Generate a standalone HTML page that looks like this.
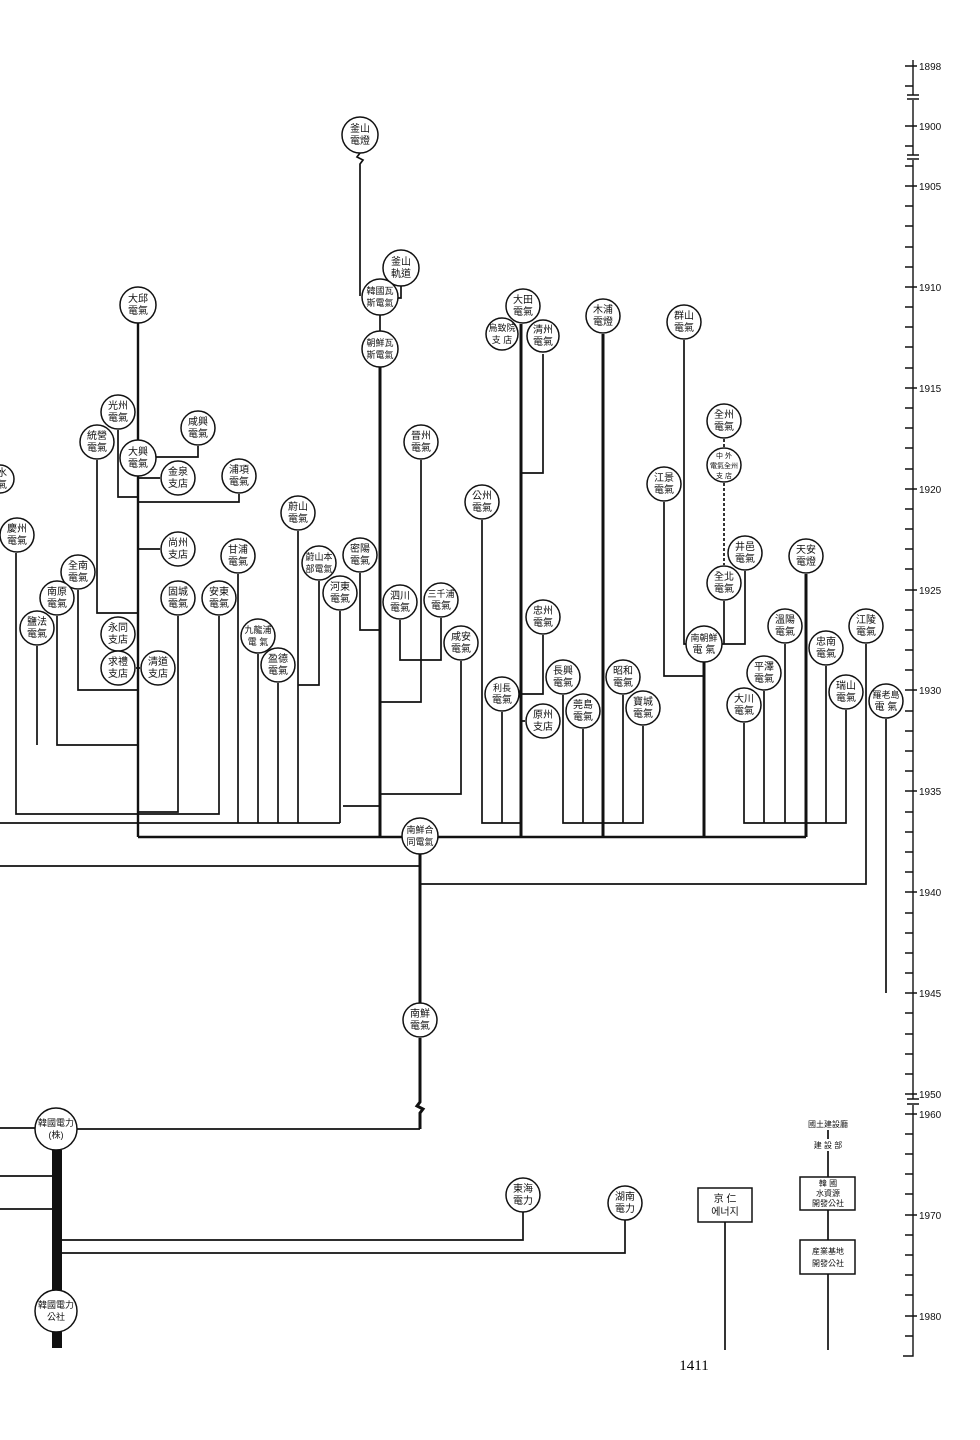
<!DOCTYPE html>
<html><head><meta charset="utf-8">
<style>
html,body{margin:0;padding:0;background:#fff;}
svg{display:block;}
.n circle,.n ellipse{fill:#fff;stroke:#111;stroke-width:1.5;}
.n text{font-family:"Liberation Sans","Noto Sans CJK TC",sans-serif;font-size:10px;text-anchor:middle;fill:#111;}
.t{fill:none;stroke:#111;stroke-width:1.7;}
.k{fill:none;stroke:#111;stroke-width:3;}
.yr{font-family:"Liberation Sans",sans-serif;font-size:10px;fill:#111;}
</style></head><body>
<svg width="980" height="1440" viewBox="0 0 980 1440" xmlns="http://www.w3.org/2000/svg">
<rect width="980" height="1440" fill="#fff"/>
<!-- thin connectors -->
<path class="t" d="M360,153 l-3,4 l6,3 l-3,4 V296 M401,286 V298 H396 M380,315 V331
M118,430 V497 H138 M198,446 V457 H156 M97,460 V613 H138 M138,478 H160 M239,494 V502 H138
M16,553 V814 H219 V616 M138,549 H160 M78,590 V690 H138 M57,616 V745 H138 M37,646 V745
M136,668 H140 M178,616 V812 H138
M0,823 H340 M238,574 V823 M258,654 V823 M278,683 V823 M298,531 V823 M340,611 V823
M319,581 V685 H298 M360,573 V630 H380 M421,460 V702 H380 M400,620 V660 H441 V618
M461,661 V794 H380 M343,806 H380
M0,866 H420 M420,884 H866 V644 M886,719 V993 M0,1128 H37 M75,1129 H420
M543,354 V473 H521 M482,520 V823 H521 M502,712 V823 M543,635 V694 H521 M525,721 H521
M563,695 V823 H643 V726 M583,729 V823 M623,695 V823
M684,340 V644 H688 M724,601 V644 M745,571 V644 H722 M664,502 V676 H704
M744,723 V823 H846 V710 M764,691 V823 M785,644 V823 M826,666 V823
M0,1176 H56 M0,1209 H56 M523,1211 V1240 H60 M625,1220 V1253 H60
M725,1222 V1350 M828,1130 V1139 M828,1151 V1177 M828,1210 V1240 M828,1274 V1350"/>
<path class="t" stroke-dasharray="3,2" d="M724,439 V447 M724,483 V565"/>
<!-- thick connectors -->
<path class="t" style="stroke-width:2.4" d="M138,323 V837 M138,837 H402 M438,837 H806"/>
<path class="k" d="M380,367 V837 M521,324 V837 M603,334 V837 M704,662 V837 M806,574 V837
M420,854 V1003 M420,1038 V1102 l-3,4 l6,3 l-3,4 V1129"/>
<rect x="52" y="1150" width="10" height="198" fill="#111"/>
<!-- nodes -->
<g class="n">
<circle cx="360" cy="135" r="18"/><text x="360" y="132">釜山</text><text x="360" y="144">電燈</text>
<circle cx="401" cy="268" r="18"/><text x="401" y="265">釜山</text><text x="401" y="277">軌道</text>
<circle cx="380" cy="297" r="18"/><text x="380" y="294" style="font-size:9px">韓國瓦</text><text x="380" y="306" style="font-size:9px">斯電氣</text>
<circle cx="380" cy="349" r="18"/><text x="380" y="346" style="font-size:9px">朝鮮瓦</text><text x="380" y="358" style="font-size:9px">斯電氣</text>
<circle cx="138" cy="305" r="18"/><text x="138" y="302">大邱</text><text x="138" y="314">電氣</text>
<circle cx="118" cy="412" r="17"/><text x="118" y="409">光州</text><text x="118" y="421">電氣</text>
<circle cx="198" cy="428" r="17"/><text x="198" y="425">咸興</text><text x="198" y="437">電氣</text>
<circle cx="97" cy="442" r="17"/><text x="97" y="439">統營</text><text x="97" y="451">電氣</text>
<circle cx="138" cy="458" r="18"/><text x="138" y="455">大興</text><text x="138" y="467">電氣</text>
<circle cx="178" cy="478" r="17"/><text x="178" y="475">金泉</text><text x="178" y="487">支店</text>
<circle cx="239" cy="476" r="17"/><text x="239" y="473">浦項</text><text x="239" y="485">電氣</text>
<circle cx="0" cy="479" r="14"/><text x="2" y="476">水</text><text x="2" y="488">氣</text>
<circle cx="17" cy="535" r="17"/><text x="17" y="532">慶州</text><text x="17" y="544">電氣</text>
<circle cx="178" cy="549" r="17"/><text x="178" y="546">尚州</text><text x="178" y="558">支店</text>
<circle cx="78" cy="572" r="17"/><text x="78" y="569">全南</text><text x="78" y="581">電氣</text>
<circle cx="57" cy="598" r="17"/><text x="57" y="595">南原</text><text x="57" y="607">電氣</text>
<circle cx="37" cy="628" r="17"/><text x="37" y="625">鹽法</text><text x="37" y="637">電氣</text>
<circle cx="178" cy="598" r="17"/><text x="178" y="595">固城</text><text x="178" y="607">電氣</text>
<circle cx="219" cy="598" r="17"/><text x="219" y="595">安東</text><text x="219" y="607">電氣</text>
<circle cx="238" cy="556" r="17"/><text x="238" y="553">甘浦</text><text x="238" y="565">電氣</text>
<circle cx="118" cy="634" r="17"/><text x="118" y="631">永同</text><text x="118" y="643">支店</text>
<circle cx="118" cy="668" r="17"/><text x="118" y="665">求禮</text><text x="118" y="677">支店</text>
<circle cx="158" cy="668" r="17"/><text x="158" y="665">清道</text><text x="158" y="677">支店</text>
<circle cx="258" cy="636" r="17"/><text x="258" y="633" style="font-size:9px">九龍浦</text><text x="258" y="645" style="font-size:9px">電 氣</text>
<circle cx="278" cy="665" r="17"/><text x="278" y="662">盈德</text><text x="278" y="674">電氣</text>
<circle cx="298" cy="513" r="17"/><text x="298" y="510">蔚山</text><text x="298" y="522">電氣</text>
<circle cx="319" cy="563" r="17"/><text x="319" y="560" style="font-size:9px">蔚山本</text><text x="319" y="572" style="font-size:9px">部電氣</text>
<circle cx="360" cy="555" r="17"/><text x="360" y="552">密陽</text><text x="360" y="564">電氣</text>
<circle cx="340" cy="593" r="17"/><text x="340" y="590">河東</text><text x="340" y="602">電氣</text>
<circle cx="421" cy="442" r="17"/><text x="421" y="439">晉州</text><text x="421" y="451">電氣</text>
<circle cx="400" cy="602" r="17"/><text x="400" y="599">泗川</text><text x="400" y="611">電氣</text>
<circle cx="441" cy="600" r="17"/><text x="441" y="597" style="font-size:9px">三千浦</text><text x="441" y="609">電氣</text>
<circle cx="461" cy="643" r="17"/><text x="461" y="640">咸安</text><text x="461" y="652">電氣</text>
<circle cx="482" cy="502" r="17"/><text x="482" y="499">公州</text><text x="482" y="511">電氣</text>
<circle cx="523" cy="306" r="17"/><text x="523" y="303">大田</text><text x="523" y="315">電氣</text>
<circle cx="502" cy="334" r="16"/><text x="502" y="331" style="font-size:9px">烏致院</text><text x="502" y="343" style="font-size:9px">支 店</text>
<circle cx="543" cy="336" r="16"/><text x="543" y="333">清州</text><text x="543" y="345">電氣</text>
<circle cx="603" cy="316" r="17"/><text x="603" y="313">木浦</text><text x="603" y="325">電燈</text>
<circle cx="684" cy="322" r="17"/><text x="684" y="319">群山</text><text x="684" y="331">電氣</text>
<circle cx="724" cy="421" r="17"/><text x="724" y="418">全州</text><text x="724" y="430">電氣</text>
<circle cx="724" cy="465" r="17"/><text x="724" y="458" style="font-size:7px">中 外</text><text x="724" y="468" style="font-size:7px">電氣全州</text><text x="724" y="478" style="font-size:7px">支 店</text>
<circle cx="664" cy="484" r="17"/><text x="664" y="481">江景</text><text x="664" y="493">電氣</text>
<circle cx="745" cy="553" r="17"/><text x="745" y="550">井邑</text><text x="745" y="562">電氣</text>
<circle cx="806" cy="556" r="17"/><text x="806" y="553">天安</text><text x="806" y="565">電燈</text>
<circle cx="724" cy="583" r="17"/><text x="724" y="580">全北</text><text x="724" y="592">電氣</text>
<circle cx="704" cy="644" r="18"/><text x="704" y="641" style="font-size:9px">南朝鮮</text><text x="704" y="653">電 氣</text>
<circle cx="543" cy="617" r="17"/><text x="543" y="614">忠州</text><text x="543" y="626">電氣</text>
<circle cx="502" cy="694" r="17"/><text x="502" y="691" style="font-size:9px">利長</text><text x="502" y="703">電氣</text>
<circle cx="543" cy="721" r="17"/><text x="543" y="718">原州</text><text x="543" y="730">支店</text>
<circle cx="563" cy="677" r="17"/><text x="563" y="674">長興</text><text x="563" y="686">電氣</text>
<circle cx="583" cy="711" r="17"/><text x="583" y="708">莞島</text><text x="583" y="720">電氣</text>
<circle cx="623" cy="677" r="17"/><text x="623" y="674">昭和</text><text x="623" y="686">電氣</text>
<circle cx="643" cy="708" r="17"/><text x="643" y="705">寶城</text><text x="643" y="717">電氣</text>
<circle cx="785" cy="626" r="17"/><text x="785" y="623">溫陽</text><text x="785" y="635">電氣</text>
<circle cx="764" cy="673" r="17"/><text x="764" y="670">平澤</text><text x="764" y="682">電氣</text>
<circle cx="744" cy="705" r="17"/><text x="744" y="702">大川</text><text x="744" y="714">電氣</text>
<circle cx="826" cy="648" r="17"/><text x="826" y="645">忠南</text><text x="826" y="657">電氣</text>
<circle cx="846" cy="692" r="17"/><text x="846" y="689">瑞山</text><text x="846" y="701">電氣</text>
<circle cx="866" cy="626" r="17"/><text x="866" y="623">江陵</text><text x="866" y="635">電氣</text>
<circle cx="886" cy="701" r="17"/><text x="886" y="698" style="font-size:9px">羅老島</text><text x="886" y="710">電 氣</text>
<circle cx="420" cy="836" r="18"/><text x="420" y="833" style="font-size:9px">南鮮合</text><text x="420" y="845" style="font-size:9px">同電氣</text>
<circle cx="420" cy="1020" r="17"/><text x="420" y="1017">南鮮</text><text x="420" y="1029">電氣</text>
<ellipse cx="56" cy="1129" rx="21" ry="21"/><text x="56" y="1126" style="font-size:9px">韓國電力</text><text x="56" y="1138" style="font-size:9px">(株)</text>
<ellipse cx="56" cy="1311" rx="21" ry="21"/><text x="56" y="1308" style="font-size:9px">韓國電力</text><text x="56" y="1320" style="font-size:9px">公社</text>
<circle cx="523" cy="1195" r="17"/><text x="523" y="1192">東海</text><text x="523" y="1204">電力</text>
<circle cx="625" cy="1203" r="17"/><text x="625" y="1200">湖南</text><text x="625" y="1212">電力</text>
<rect x="698" y="1188" width="54" height="34" fill="#fff" stroke="#111" stroke-width="1.5"/>
<text x="725" y="1202">京 仁</text><text x="725" y="1215">에너지</text>
<text x="828" y="1127" style="font-size:8px">國土建設廳</text>
<text x="828" y="1148" style="font-size:8px">建 設 部</text>
<rect x="800" y="1177" width="55" height="33" fill="#fff" stroke="#111" stroke-width="1.5"/>
<text x="828" y="1186" style="font-size:8px">韓  國</text><text x="828" y="1196" style="font-size:8px">水資源</text><text x="828" y="1206" style="font-size:8px">開發公社</text>
<rect x="800" y="1240" width="55" height="34" fill="#fff" stroke="#111" stroke-width="1.5"/>
<text x="828" y="1254" style="font-size:8px">産業基地</text><text x="828" y="1266" style="font-size:8px">開發公社</text>
</g>
<text x="694" y="1370" style="font-family:'Liberation Serif',serif;font-size:15px;text-anchor:middle">1411</text>
<!-- timeline -->
<path class="t" style="stroke-width:1.4" d="M913,60 V95 M913,100 V155 M913,160 V1099 M913,1105 V1356 H903
M907,95 h12 M907,99 h12 M907,155 h12 M907,159 h12 M907,1099 h12 M907,1104 h12
M905,66 h8 M905,86 h8 M905,126 h8 M905,146 h8 M905,166 h8
M905,186h8M905,206h8M905,226h8M905,247h8M905,267h8M905,287h8M905,307h8M905,327h8M905,347h8M905,368h8
M905,388h8M905,408h8M905,428h8M905,448h8M905,469h8M905,489h8M905,509h8M905,529h8M905,549h8M905,569h8
M905,590h8M905,610h8M905,630h8M905,650h8M905,670h8M905,690h8M905,711h8M905,731h8M905,751h8M905,771h8
M905,791h8M905,812h8M905,832h8M905,852h8M905,872h8M905,892h8M905,913h8M905,933h8M905,953h8M905,973h8
M905,993h8M905,1013h8M905,1034h8M905,1054h8M905,1074h8M905,1094h8
M905,1114h8M905,1134h8M905,1154h8M905,1174h8M905,1194h8M905,1215h8M905,1235h8M905,1255h8M905,1275h8M905,1295h8M905,1316h8M905,1336h8
M913,66h4M913,126h4M913,186h4M913,287h4M913,388h4M913,489h4M913,590h4M913,690h4M913,791h4M913,892h4M913,993h4M913,1094h4M913,1114h4M913,1215h4M913,1316h4"/>
<g class="yr">
<text x="919" y="70">1898</text><text x="919" y="130">1900</text><text x="919" y="190">1905</text>
<text x="919" y="291">1910</text><text x="919" y="392">1915</text><text x="919" y="493">1920</text>
<text x="919" y="594">1925</text><text x="919" y="694">1930</text><text x="919" y="795">1935</text>
<text x="919" y="896">1940</text><text x="919" y="997">1945</text><text x="919" y="1098">1950</text>
<text x="919" y="1118">1960</text><text x="919" y="1219">1970</text><text x="919" y="1320">1980</text>
</g>
</svg>
</body></html>
